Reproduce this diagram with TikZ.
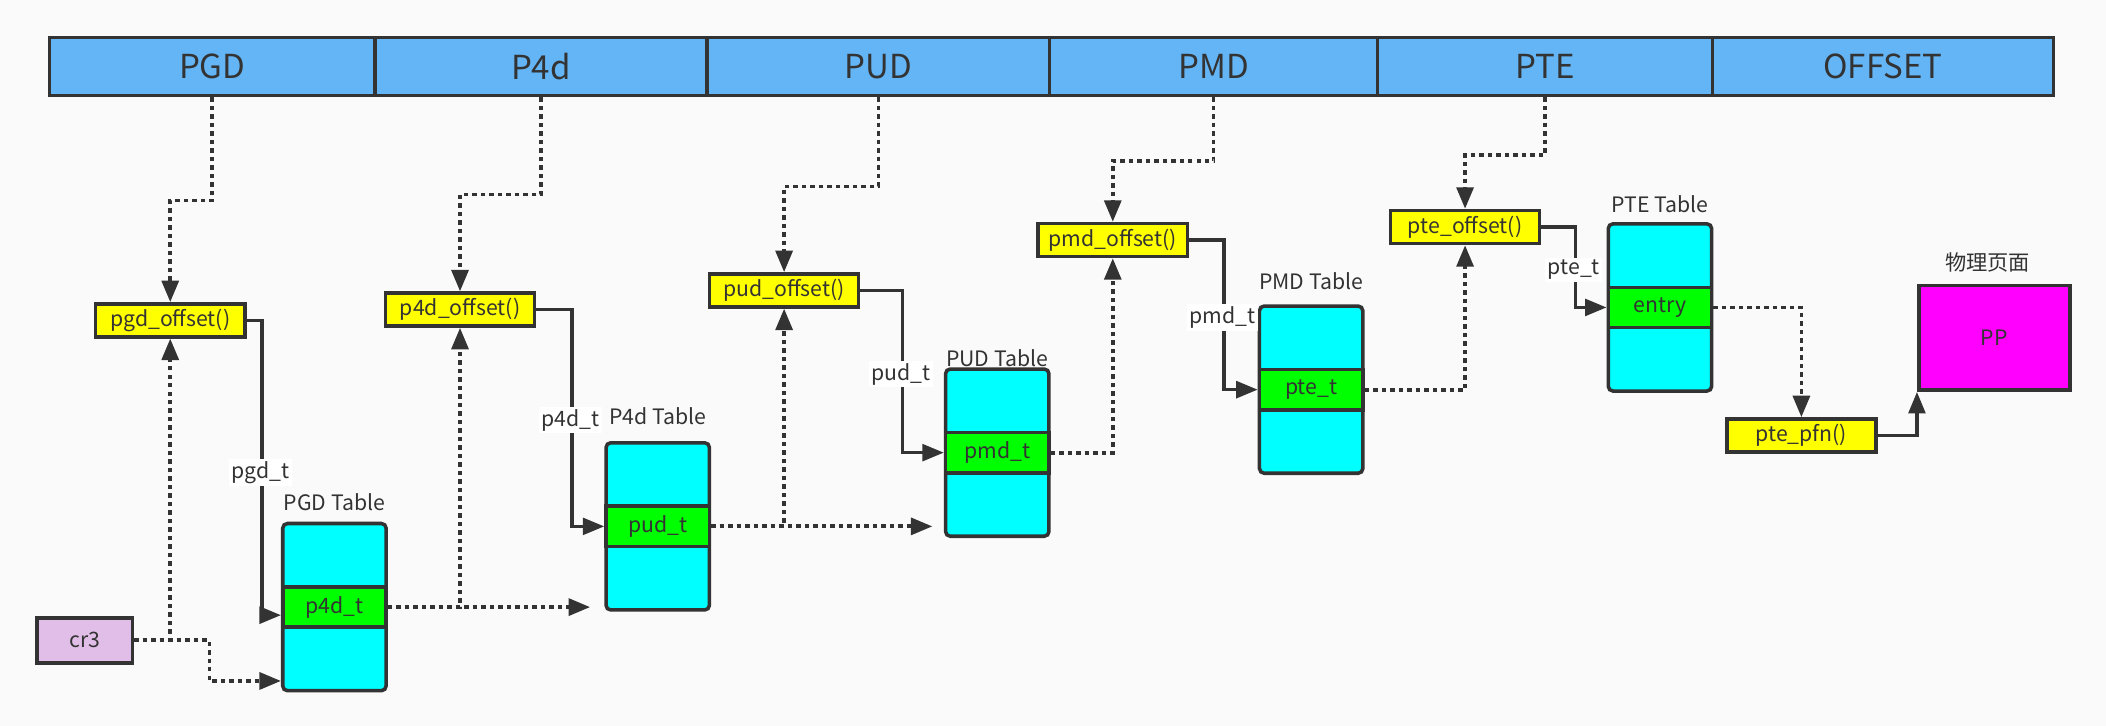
\documentclass[tikz,border=0pt]{standalone}
\usepackage{fontspec}
\setmainfont{Noto Sans CJK SC}
\usepackage{tikz}
\usetikzlibrary{arrows.meta,calc}
\definecolor{bgcol}{HTML}{FAFAFA}
\definecolor{linecol}{HTML}{333333}
\definecolor{barblue}{HTML}{64B5F6}
\definecolor{funcyellow}{HTML}{FFFF00}
\definecolor{tabcyan}{HTML}{00FFFF}
\definecolor{rowgreen}{HTML}{00FF00}
\definecolor{pagemagenta}{HTML}{FF00FF}
\definecolor{regviolet}{HTML}{E1BEE7}
\tikzset{
    field/.style={rectangle,draw=linecol,line width=1.5pt,fill=barblue,minimum height=0.86cm,inner sep=0pt,font=\fontsize{14}{16}\selectfont},
    func/.style={rectangle,draw=linecol,line width=1.5pt,fill=funcyellow,minimum width=2.22cm,minimum height=0.49cm,inner sep=0pt,font=\fontsize{9}{11}\selectfont},
    pgtable/.style={rectangle,draw=linecol,line width=1.5pt,fill=tabcyan,rounded corners=0.07cm,minimum width=1.54cm,minimum height=2.49cm,inner sep=0pt},
    pgrow/.style={rectangle,draw=linecol,line width=1.5pt,fill=rowgreen,minimum width=1.54cm,minimum height=0.6cm,inner sep=0pt,font=\fontsize{9}{11}\selectfont},
    caption/.style={font=\fontsize{9}{11}\selectfont},
    wirelabel/.style={fill=white,inner sep=1pt,font=\fontsize{9}{11}\selectfont},
    link/.style={->,>={Triangle[length=3.2mm,width=2.5mm]},line width=1.4pt,draw=linecol},
    dotlink/.style={link,line width=1.6pt,dash pattern=on 1.9pt off 1.7pt}
}

\begin{document}
\begin{tikzpicture}[x=0.02cm,y=-0.02cm,every node/.append style={text=linecol}]
\fill[bgcol] (0,0) rectangle (1568,540.5);

\node[field,minimum width=4.84cm] (pgd) at (158,49.5) {PGD};
\node[field,minimum width=4.95cm] (p4d) at (402.75,49.5) {P4d};
\node[field,minimum width=5.10cm] (pud) at (654,49.5) {PUD};
\node[field,minimum width=4.88cm] (pmd) at (903.5,49.5) {PMD};
\node[field,minimum width=4.99cm] (pte) at (1150.25,49.5) {PTE};
\node[field,minimum width=5.08cm] (offset) at (1402,49.5) {OFFSET};

\node[func] (pgdoff) at (126.75,238.5) {pgd\_offset()};
\node[func] (p4doff) at (342.5,230.5) {p4d\_offset()};
\node[func] (pudoff) at (583.8,216.2) {pud\_offset()};
\node[func] (pmdoff) at (828.5,178.7) {pmd\_offset()};
\node[func] (pteoff) at (1090.8,169) {pte\_offset()};
\node[func] (ptepfn) at (1341.2,324.2) {pte\_pfn()};

\node[rectangle,draw=linecol,line width=1.5pt,fill=regviolet,minimum width=1.42cm,minimum height=0.67cm,font=\fontsize{9}{11}\selectfont] (cr3) at (63.1,476.7) {cr3};

\node[pgtable] (pgdtab) at (249,452) {};
\node[pgrow] (p4dt) at (pgdtab) {p4d\_t};
\node[pgtable] (p4dtab) at (489.7,391.9) {};
\node[pgrow] (pudt) at (p4dtab) {pud\_t};
\node[pgtable] (pudtab) at (742.5,337) {};
\node[pgrow] (pmdt) at (pudtab) {pmd\_t};
\node[pgtable] (pmdtab) at (976.2,290.1) {};
\node[pgrow] (ptet) at (pmdtab) {pte\_t};
\node[pgtable] (ptetab) at (1235.9,228.9) {};
\node[pgrow] (entry) at (ptetab) {entry};

\node[caption] (pgdcap) at (249,374) {PGD Table};
\node[caption] (p4dcap) at (489.7,309.5) {P4d Table};
\node[caption] (pudcap) at (742.4,266.5) {PUD Table};
\node[caption] (pmdcap) at (976.2,209) {PMD Table};
\node[caption] (ptecap) at (1236,151.9) {PTE Table};

\node[rectangle,draw=linecol,line width=1.5pt,fill=pagemagenta,minimum width=2.25cm,minimum height=1.56cm,font=\fontsize{9}{11}\selectfont] (pp) at (1484.8,251.5) {PP};
\node[caption] (ppcap) at (1479.8,195.6) {物理页面};

\draw[dotlink] (pgd.south) -- ++(0,77) -| (pgdoff.north);
\draw[dotlink] (p4d.south) -- ++(0,72.5) -| (p4doff.north);
\draw[dotlink] (pud.south) -- ++(0,66.5) -| (pudoff.north);
\draw[dotlink] (pmd.south) -- ++(0,47.6) -| (pmdoff.north);
\draw[dotlink] (pte.south) -- ++(0,43) -| (pteoff.north);

\draw[dotlink] (cr3.east) -| (pgdoff.south);
\draw[dotlink] (cr3.east) -- ++(56,0) |- ([yshift=-1.1cm]pgdtab.west);

\draw[link] (pgdoff.east) -- ++(11.5,0) |- ([yshift=-1.2mm]p4dt.west);
\draw[link] (p4doff.east) -- ++(26.6,0) |- (pudt.west);
\draw[link] (pudoff.east) -- ++(31.4,0) |- (pmdt.west);
\draw[link] (pmdoff.east) -- ++(26,0) |- (ptet.west);
\draw[link] (pteoff.east) -- ++(25.2,0) |- (entry.west);

\node[wirelabel] (pgdlab) at (193.8,352) {pgd\_t};
\node[wirelabel] (p4dlab) at (424.6,312.8) {p4d\_t};
\node[wirelabel] (pudlab) at (670.7,278.5) {pud\_t};
\node[wirelabel] (pmdlab) at (910.2,236.5) {pmd\_t};
\node[wirelabel] (ptelab) at (1171.8,201) {pte\_t};

\draw[dotlink] (p4dt.east) -| (p4doff.south);
\draw[dotlink] (p4dt.east) -- ($(p4dt.east -| p4dtab.west)+(-10.5,0)$);
\draw[dotlink] (pudt.east) -| (pudoff.south);
\draw[dotlink] (pudt.east) -- ($(pudt.east -| pudtab.west)+(-8.5,0)$);
\draw[dotlink] (pmdt.east) -| (pmdoff.south);
\draw[dotlink] (ptet.east) -| (pteoff.south);
\draw[dotlink] (entry.east) -| (ptepfn.north);

\draw[link] (ptepfn.east) -| (pp.south west);
\end{tikzpicture}
\end{document}
